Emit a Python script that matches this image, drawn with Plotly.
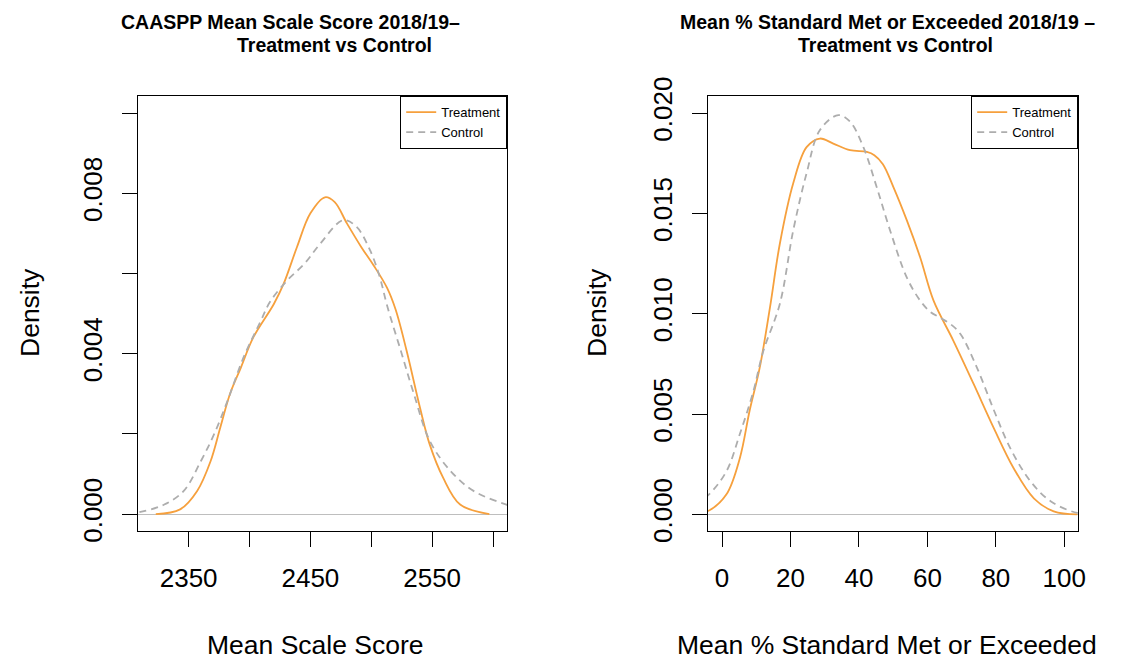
import plotly.graph_objects as go

# ---------------- data ----------------
score_treat_x = [2323, 2343, 2357, 2368, 2376, 2384, 2393, 2403, 2420, 2428, 2439, 2450,
                 2462, 2470, 2480, 2492, 2502, 2513, 2520, 2529, 2540, 2548, 2559, 2573, 2597]
score_treat_y = [0.0, 0.00012, 0.00058, 0.00132, 0.00216, 0.0030, 0.00366, 0.0044, 0.00524,
                 0.00574, 0.00666, 0.0075, 0.0079, 0.00778, 0.00725, 0.00665, 0.0062, 0.00564, 0.0051,
                 0.00408, 0.00266, 0.00174, 0.00091, 0.00024, 0.0]

score_ctrl_x = [2290, 2308, 2330, 2346, 2360, 2371, 2382, 2395, 2409, 2417, 2431, 2445,
                2458, 2477, 2488, 2499, 2507, 2513, 2524, 2535, 2548, 2565, 2584, 2611, 2630]
score_ctrl_y = [0.0, 0.00004, 0.00024, 0.00058, 0.00132, 0.0020, 0.00283, 0.0039, 0.0048,
                0.0053, 0.00583, 0.00624, 0.00674, 0.00733, 0.00716, 0.00658, 0.00591, 0.0052,
                0.0041, 0.0030, 0.00183, 0.00108, 0.00058, 0.00024, 0.00010]

pct_treat_x = [-8, -3.8, 1.3, 5.2, 8.1, 11.0, 14.0, 16.9, 20.8, 24.7, 28.6, 32.5, 37.4, 42.3,
               44.5, 47.0, 50.1, 54.0, 57.9, 61.8, 67.6, 73.5, 79.4, 85.2, 91.1, 96.9, 103.8]
pct_treat_y = [0.00002, 0.00019, 0.0010, 0.0028, 0.0052, 0.0073, 0.0103, 0.0135, 0.0165,
               0.0183, 0.01873, 0.01848, 0.01815, 0.01806, 0.0179, 0.01745, 0.0163, 0.01465, 0.0128,
               0.01065, 0.00865, 0.0065, 0.0043, 0.0023, 0.0008, 0.00015, 0.0]

pct_ctrl_x = [-8, -3.8, 1.3, 5.2, 9.1, 12.0, 16.9, 20.8, 24.7, 28.6, 34.0, 37.4, 41.3, 45.2,
              49.1, 54.0, 57.9, 60.8, 63.7, 66.6, 69.6, 74.5, 79.4, 84.2, 90.1, 96.0, 103.8, 110]
pct_ctrl_y = [0.0005, 0.0010, 0.00215, 0.0040, 0.0061, 0.0081, 0.0105, 0.01415, 0.0170,
              0.01915, 0.0199, 0.01957, 0.0183, 0.0163, 0.01415, 0.0118, 0.01065, 0.0101,
              0.0098, 0.0095, 0.0090, 0.0073, 0.0052, 0.0033, 0.00165, 0.00065, 0.00007, 0.0]

score_xticks = [2350, 2400, 2450, 2500, 2550, 2600]
score_xticklabels = ["2350", "", "2450", "", "2550", ""]
score_yticks = [0.0, 0.002, 0.004, 0.006, 0.008, 0.010]
score_yticklabels = ["0.000", "", "0.004", "", "0.008", ""]
pct_xticks = [0, 20, 40, 60, 80, 100]
pct_xticklabels = ["0", "20", "40", "60", "80", "100"]
pct_yticks = [0.0, 0.005, 0.010, 0.015, 0.020]
pct_yticklabels = ["0.000", "0.005", "0.010", "0.015", "0.020"]

series_names = ["Treatment", "Control"]
title_left = ["CAASPP Mean Scale Score 2018/19\u2013", "Treatment vs Control"]
title_right = ["Mean % Standard Met or Exceeded 2018/19 \u2013", "Treatment vs Control"]
xlabel_left = "Mean Scale Score"
xlabel_right = "Mean % Standard Met or Exceeded"
ylabel = "Density"

# ---------------- styling ----------------
W, H = 1141, 663
FONT = "Liberation Sans, Arial, Helvetica, sans-serif"
ORANGE = "#F6A03D"
GRAY = "#ADADAD"
ZERO = "#BEBEBE"
TICK_SIZE = 26
LAB_SIZE = 26.5
TITLE_SIZE = 19.5

def px_x(p):
    return p / W

def px_y(p):
    return 1 - p / H

box_top, box_bot = 96, 531
L = (138, 507)
R = (708, 1078)

fig = go.Figure()

fig.add_trace(go.Scatter(x=score_treat_x, y=score_treat_y, mode="lines", name=series_names[0],
                         line=dict(color=ORANGE, width=1.8, shape="spline", smoothing=1.0),
                         xaxis="x", yaxis="y", legend="legend"))
fig.add_trace(go.Scatter(x=score_ctrl_x, y=score_ctrl_y, mode="lines", name=series_names[1],
                         line=dict(color=GRAY, width=1.8, dash="7px,5px", shape="spline", smoothing=1.0),
                         xaxis="x", yaxis="y", legend="legend"))
fig.add_trace(go.Scatter(x=pct_treat_x, y=pct_treat_y, mode="lines", name=series_names[0],
                         line=dict(color=ORANGE, width=1.8, shape="spline", smoothing=1.0),
                         xaxis="x2", yaxis="y2", legend="legend2"))
fig.add_trace(go.Scatter(x=pct_ctrl_x, y=pct_ctrl_y, mode="lines", name=series_names[1],
                         line=dict(color=GRAY, width=1.8, dash="7px,5px", shape="spline", smoothing=1.0),
                         xaxis="x2", yaxis="y2", legend="legend2"))

axis_common = dict(showgrid=False, showline=True, linecolor="black", linewidth=1.2,
                   mirror=True, ticks="outside", ticklen=15, tickwidth=1.2, tickcolor="black",
                   tickfont=dict(family=FONT, size=TICK_SIZE, color="black"), automargin=False)

fig.update_layout(
    width=W, height=H, margin=dict(l=0, r=0, t=0, b=0, autoexpand=False),
    paper_bgcolor="white", plot_bgcolor="white",
    xaxis=dict(domain=[px_x(L[0]), px_x(L[1])], range=[2308.4, 2611.5], anchor="y",
               tickmode="array", tickvals=score_xticks, ticktext=score_xticklabels,
               ticklabelstandoff=9, zeroline=False, **axis_common),
    yaxis=dict(domain=[px_y(box_bot), px_y(box_top)], range=[-0.00042, 0.010425], anchor="x",
               tickmode="array", tickvals=score_yticks, ticktext=score_yticklabels,
               tickangle=-90, ticklabelstandoff=10,
               zeroline=True, zerolinecolor=ZERO, zerolinewidth=1.2, **axis_common),
    xaxis2=dict(domain=[px_x(R[0]), px_x(R[1])], range=[-4.1, 104.0], anchor="y2",
                tickmode="array", tickvals=pct_xticks, ticktext=pct_xticklabels,
                ticklabelstandoff=9, zeroline=False, **axis_common),
    yaxis2=dict(domain=[px_y(box_bot), px_y(box_top)], range=[-0.00083, 0.02085], anchor="x2",
                tickmode="array", tickvals=pct_yticks, ticktext=pct_yticklabels,
                tickangle=-90, ticklabelstandoff=10,
                zeroline=True, zerolinecolor=ZERO, zerolinewidth=1.2, **axis_common),
    legend=dict(x=px_x(L[1]), y=px_y(box_top), xanchor="right", yanchor="top",
                bgcolor="white", bordercolor="black", borderwidth=1.2,
                font=dict(family=FONT, size=13, color="black"), itemwidth=30,
                tracegroupgap=0),
    legend2=dict(x=px_x(R[1]), y=px_y(box_top), xanchor="right", yanchor="top",
                 bgcolor="white", bordercolor="black", borderwidth=1.2,
                 font=dict(family=FONT, size=13, color="black"), itemwidth=30,
                 tracegroupgap=0),
    showlegend=True,
)

ann = []
title_font = dict(family=FONT, size=TITLE_SIZE, color="black")
lab_font = dict(family=FONT, size=LAB_SIZE, color="black")
ann.append(dict(text="<b>%s</b>" % title_left[0], x=px_x(290), y=px_y(22), xref="paper", yref="paper",
                xanchor="center", yanchor="middle", showarrow=False, font=title_font))
ann.append(dict(text="<b>%s</b>" % title_left[1], x=px_x(334), y=px_y(45), xref="paper", yref="paper",
                xanchor="center", yanchor="middle", showarrow=False, font=title_font))
ann.append(dict(text="<b>%s</b>" % title_right[0], x=px_x(887), y=px_y(22), xref="paper", yref="paper",
                xanchor="center", yanchor="middle", showarrow=False, font=title_font))
ann.append(dict(text="<b>%s</b>" % title_right[1], x=px_x(895), y=px_y(45), xref="paper", yref="paper",
                xanchor="center", yanchor="middle", showarrow=False, font=title_font))
ann.append(dict(text=xlabel_left, x=px_x(315), y=px_y(645), xref="paper", yref="paper",
                xanchor="center", yanchor="middle", showarrow=False, font=lab_font))
ann.append(dict(text=xlabel_right, x=px_x(887), y=px_y(645), xref="paper", yref="paper",
                xanchor="center", yanchor="middle", showarrow=False, font=lab_font))
ann.append(dict(text=ylabel, x=px_x(30), y=px_y(313), xref="paper", yref="paper", textangle=-90,
                xanchor="center", yanchor="middle", showarrow=False, font=lab_font))
ann.append(dict(text=ylabel, x=px_x(597), y=px_y(313), xref="paper", yref="paper", textangle=-90,
                xanchor="center", yanchor="middle", showarrow=False, font=lab_font))
fig.update_layout(annotations=ann)

fig.write_html("out.html")
